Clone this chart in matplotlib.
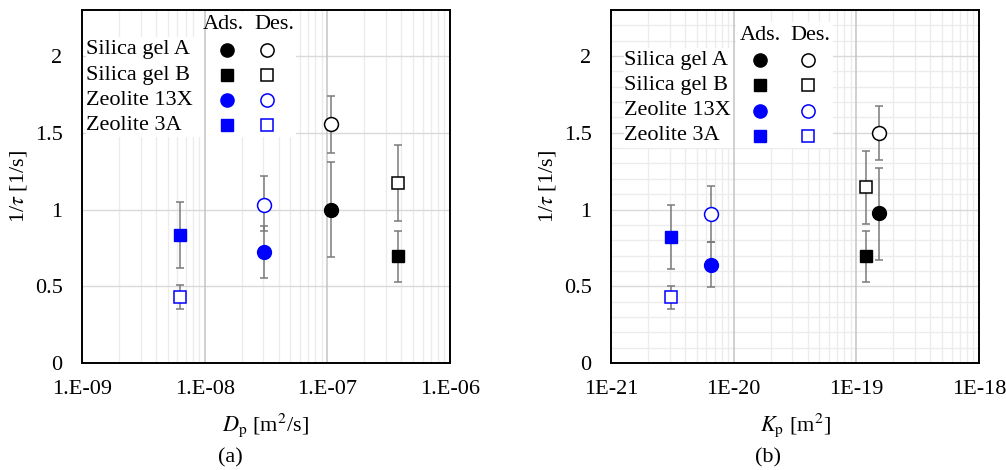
import numpy as np
import matplotlib
matplotlib.use('Agg')
import matplotlib.pyplot as plt
from matplotlib.ticker import LogLocator, MultipleLocator, NullFormatter
from matplotlib.patches import Rectangle

plt.rcParams['font.family'] = ['Liberation Serif', 'DejaVu Serif']
plt.rcParams['mathtext.fontset'] = 'stix'

# Reihenfolge: Silica gel A, Silica gel B, Zeolite 13X, Zeolite 3A
materials = ['Silica gel A', 'Silica gel B', 'Zeolite 13X', 'Zeolite 3A']
colors = ['black', 'black', 'blue', 'blue']
markers = ['o', 's', 'o', 's']

# (a) 1/tau ueber D_p
D_p = [1.08e-7, 3.78e-7, 3.03e-8, 6.3e-9]
a_ads = [1.00, 0.697, 0.725, 0.832]
a_ads_lo = [0.693, 0.531, 0.557, 0.616]
a_ads_hi = [1.309, 0.861, 0.891, 1.048]
a_des = [1.556, 1.174, 1.028, 0.433]
a_des_lo = [1.366, 0.928, 0.861, 0.355]
a_des_hi = [1.74, 1.42, 1.218, 0.508]

# (b) 1/tau ueber K_p
K_p = [1.53e-19, 1.19e-19, 6.5e-21, 3.1e-21]
b_ads = [0.976, 0.70, 0.64, 0.82]
b_ads_lo = [0.673, 0.53, 0.497, 0.61]
b_ads_hi = [1.27, 0.863, 0.79, 1.03]
b_des = [1.50, 1.146, 0.97, 0.43]
b_des_lo = [1.32, 0.906, 0.79, 0.355]
b_des_hi = [1.675, 1.38, 1.155, 0.50]

a_ticks = [1e-9, 1e-8, 1e-7, 1e-6]
a_ticklabels = ['1.E-09', '1.E-08', '1.E-07', '1.E-06']
b_ticks = [1e-21, 1e-20, 1e-19, 1e-18]
b_ticklabels = ['1E-21', '1E-20', '1E-19', '1E-18']

y_ticks = [0, 0.5, 1, 1.5, 2]
y_ticklabels = ['0', '0.5', '1', '1.5', '2']

FS = 16
W, H = 1006, 470


def panel(ax, x, ads, ads_lo, ads_hi, des, des_lo, des_hi, ticks, ticklabels,
          xlabel, minor_y, leg):
    ax.set_xscale('log')
    ax.set_xlim(ticks[0], ticks[-1])
    ax.set_ylim(0, 2.3)
    ax.set_xticks(ticks, ticklabels)
    ax.xaxis.set_minor_locator(LogLocator(base=10, subs=np.arange(2, 10)))
    ax.xaxis.set_minor_formatter(NullFormatter())
    ax.set_yticks(y_ticks, y_ticklabels)
    ax.set_axisbelow(True)

    # Gitter
    ax.grid(which='minor', axis='x', color='#ececec', lw=1.0)
    ax.grid(which='major', axis='y', color='#d9d9d9', lw=1.0)
    if minor_y:
        ax.yaxis.set_minor_locator(MultipleLocator(0.1))
        ax.grid(which='minor', axis='y', color='#ececec', lw=1.0)
    for t in ticks:
        ax.axvline(t, color='#c4c4c4', lw=1.1, zorder=0.8)

    ax.tick_params(which='both', length=0, labelsize=FS)
    ax.tick_params(axis='y', pad=14)
    ax.tick_params(axis='x', pad=12)
    for s in ax.spines.values():
        s.set_linewidth(1.4)
        s.set_color('black')

    ax.set_xlabel(xlabel, fontsize=FS, labelpad=9)
    ax.set_ylabel(r'1/$\tau$ [1/s]', fontsize=FS, labelpad=4)

    # Fehlerbalken + Messpunkte
    for i in range(len(materials)):
        ms = 10 if markers[i] == 'o' else 8.6
        ax.errorbar(x[i], ads[i], yerr=[[ads[i] - ads_lo[i]], [ads_hi[i] - ads[i]]],
                    fmt='none', ecolor='#7a7a7a', elinewidth=1.1, capsize=3.2,
                    capthick=1.1, zorder=2)
        ax.errorbar(x[i], des[i], yerr=[[des[i] - des_lo[i]], [des_hi[i] - des[i]]],
                    fmt='none', ecolor='#7a7a7a', elinewidth=1.1, capsize=3.2,
                    capthick=1.1, zorder=2)
        ax.plot(x[i], ads[i], ls='None', marker=markers[i], ms=ms,
                color=colors[i], mec=colors[i], zorder=3)
        ax.plot(x[i], des[i], ls='None', marker=markers[i], ms=ms,
                mfc='white', mec=colors[i], mew=1.1, zorder=3)

    # "Legende" als Tabelle: weisser Hintergrund fuer Namen und Symbole
    lx, lx_end, h_ads, h_des, m_ads, m_des, hy, row0, dy, bottom = leg
    ax.add_patch(Rectangle((lx, bottom), lx_end - lx, row0 + dy / 2 - bottom,
                           transform=ax.transAxes, facecolor='white',
                           edgecolor='none', zorder=0.6))
    ax.add_patch(Rectangle((lx_end, bottom), h_des + 0.06 - lx_end, hy + dy / 2 - bottom,
                           transform=ax.transAxes, facecolor='white',
                           edgecolor='none', zorder=0.6))
    ax.text(h_ads, hy, 'Ads.', transform=ax.transAxes, fontsize=FS,
            ha='center', va='center', zorder=4)
    ax.text(h_des, hy, 'Des.', transform=ax.transAxes, fontsize=FS,
            ha='center', va='center', zorder=4)
    for i, m in enumerate(materials):
        yy = row0 - i * dy
        ms = 9.5 if markers[i] == 'o' else 8
        ax.text(lx, yy, m, transform=ax.transAxes, fontsize=FS,
                ha='left', va='center', zorder=4)
        ax.plot(m_ads, yy, transform=ax.transAxes, marker=markers[i], ms=ms,
                color=colors[i], ls='None', zorder=4, clip_on=False)
        ax.plot(m_des, yy, transform=ax.transAxes, marker=markers[i], ms=ms,
                mfc='white', mec=colors[i], mew=1.1, ls='None', zorder=4, clip_on=False)


fig = plt.figure(figsize=(W / 100, H / 100), dpi=100)
ax1 = fig.add_axes([82 / W, 1 - 363 / H, 368 / W, 353 / H])
ax2 = fig.add_axes([611 / W, 1 - 363 / H, 368 / W, 353 / H])

panel(ax1, D_p, a_ads, a_ads_lo, a_ads_hi, a_des, a_des_lo, a_des_hi,
      a_ticks, a_ticklabels, r'$D_{\mathrm{p}}$ [m$^{2}$/s]', False,
      (0.012, 0.31, 0.383, 0.522, 0.394, 0.503, 0.958, 0.887, 0.0712, 0.64))
panel(ax2, K_p, b_ads, b_ads_lo, b_ads_hi, b_des, b_des_lo, b_des_hi,
      b_ticks, b_ticklabels, r'$K_{\mathrm{p}}$ [m$^{2}$]', True,
      (0.036, 0.34, 0.405, 0.543, 0.405, 0.5345, 0.929, 0.858, 0.0715, 0.61))

fig.text(230 / W, 1 - 458 / H, '(a)', fontsize=FS, ha='center', va='center')
fig.text(768 / W, 1 - 458 / H, '(b)', fontsize=FS, ha='center', va='center')

plt.savefig('out.png', dpi=100)
